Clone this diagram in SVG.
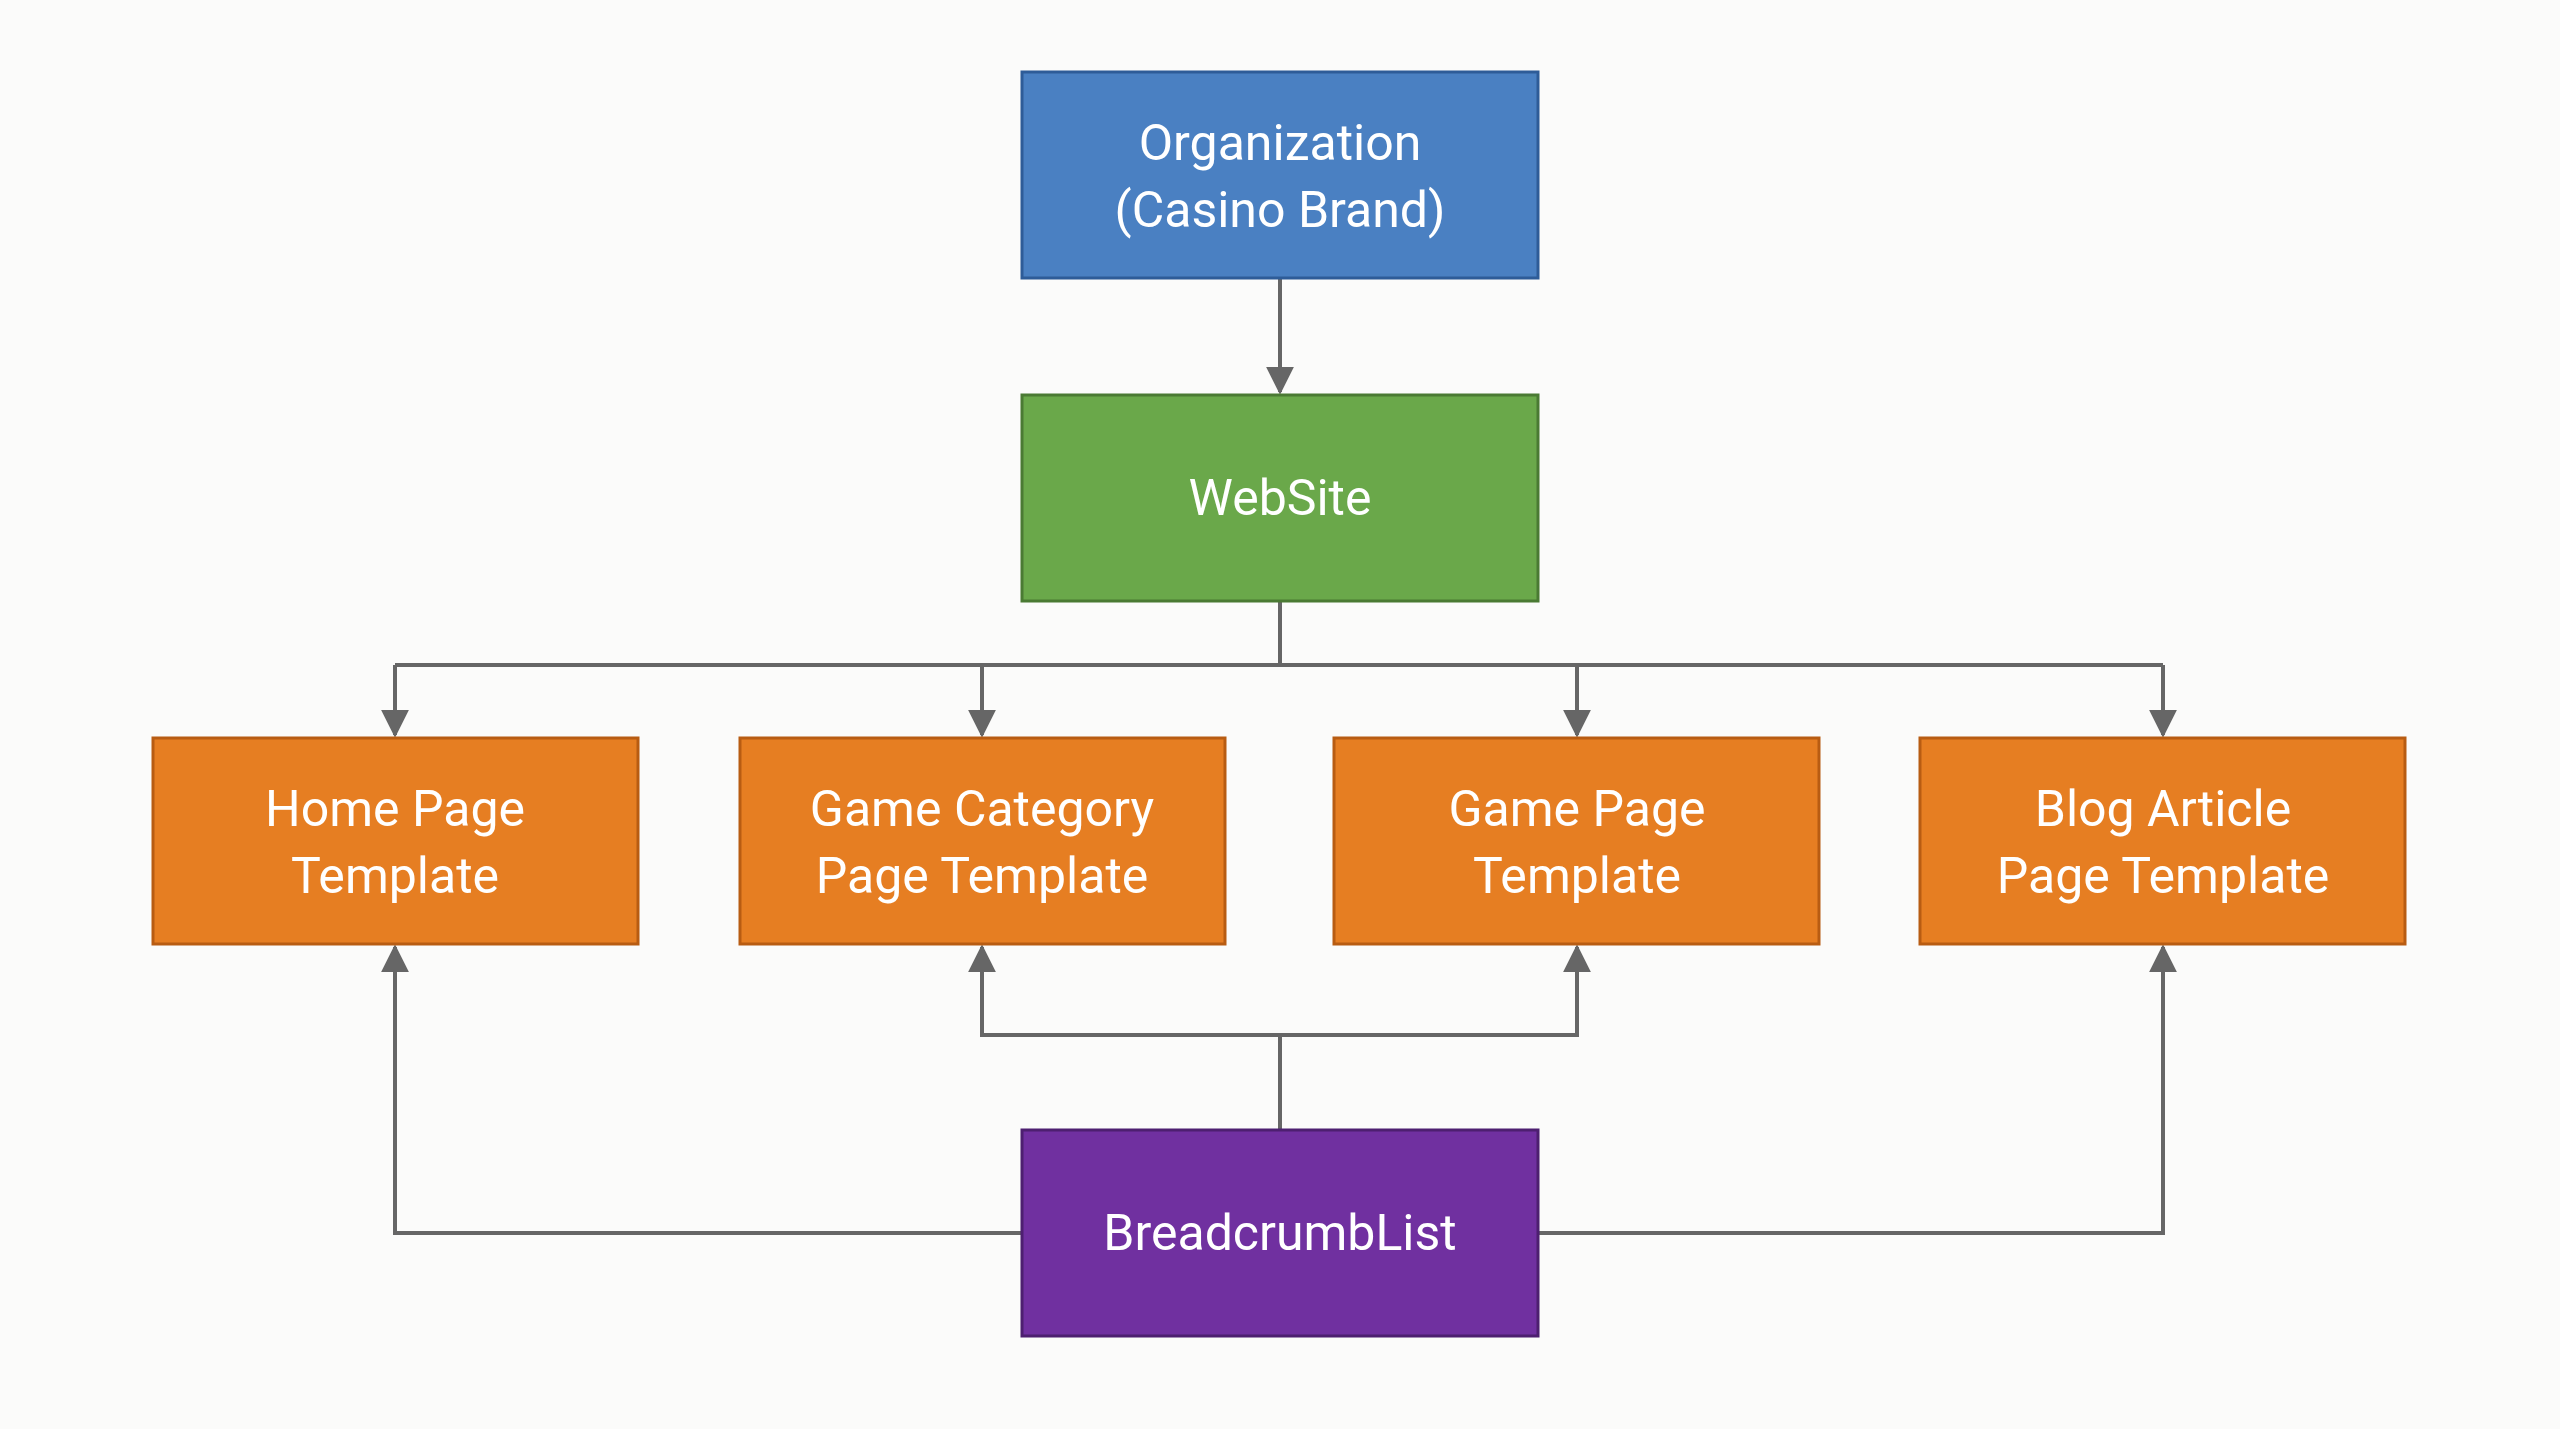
<svg xmlns="http://www.w3.org/2000/svg" width="2560" height="1429" viewBox="0 0 2560 1429">
<style>
.t{font-family:Roboto,"Open Sans",sans-serif;font-size:50px;fill:#fff;text-anchor:middle}
.c{fill:none;stroke:#666;stroke-width:4}
.b{stroke-width:3}
</style>
<defs><marker id="a" viewBox="0 0 10 10" refX="9" refY="5" markerWidth="8" markerHeight="8" markerUnits="userSpaceOnUse" orient="auto"><path d="M0,0L10,5L0,10z" fill="#666"/></marker>
<marker id="ar" viewBox="0 0 10 10" refX="9" refY="5" markerWidth="7" markerHeight="7" orient="auto"><path d="M0,0L10,5L0,10z" fill="#666"/></marker></defs>
<rect width="2560" height="1429" fill="#fbfbfa"/>
<g id="connectors">
<path class="c" d="M1280,278V392" marker-end="url(#ar)"/>
<path class="c" d="M1280,601V665M395,665H2163"/>
<path class="c" d="M395,665V735" marker-end="url(#ar)"/>
<path class="c" d="M982,665V735" marker-end="url(#ar)"/>
<path class="c" d="M1577,665V735" marker-end="url(#ar)"/>
<path class="c" d="M2163,665V735" marker-end="url(#ar)"/>
<path class="c" d="M1280,1130V1035H982V947" marker-end="url(#ar)"/>
<path class="c" d="M1280,1035H1577V947" marker-end="url(#ar)"/>
<path class="c" d="M1022,1233H395V947" marker-end="url(#ar)"/>
<path class="c" d="M1538,1233H2163V947" marker-end="url(#ar)"/>
</g>
<g id="org"><rect class="b" x="1022" y="72" width="516" height="206" fill="#4a80c2" stroke="#2e5c98"/><text class="t" x="1280" y="160">Organization</text><text class="t" x="1280" y="227">(Casino Brand)</text></g>
<g id="website"><rect class="b" x="1022" y="395" width="516" height="206" fill="#6aa84a" stroke="#4a7a33"/><text class="t" x="1280" y="515">WebSite</text></g>
<g id="home"><rect class="b" x="153" y="738" width="485" height="206" fill="#e67e22" stroke="#b85c12"/><text class="t" x="395" y="826">Home Page</text><text class="t" x="395" y="893">Template</text></g>
<g id="category"><rect class="b" x="740" y="738" width="485" height="206" fill="#e67e22" stroke="#b85c12"/><text class="t" x="982" y="826">Game Category</text><text class="t" x="982" y="893">Page Template</text></g>
<g id="game"><rect class="b" x="1334" y="738" width="485" height="206" fill="#e67e22" stroke="#b85c12"/><text class="t" x="1577" y="826">Game Page</text><text class="t" x="1577" y="893">Template</text></g>
<g id="blog"><rect class="b" x="1920" y="738" width="485" height="206" fill="#e67e22" stroke="#b85c12"/><text class="t" x="2163" y="826">Blog Article</text><text class="t" x="2163" y="893">Page Template</text></g>
<g id="breadcrumb"><rect class="b" x="1022" y="1130" width="516" height="206" fill="#7030a0" stroke="#4d1f70"/><text class="t" x="1280" y="1250">BreadcrumbList</text></g>
</svg>
